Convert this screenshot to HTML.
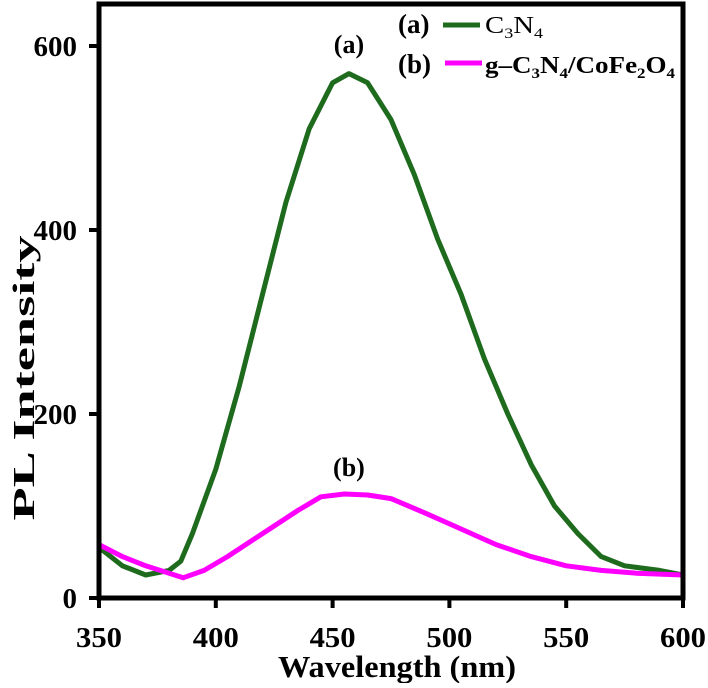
<!DOCTYPE html>
<html><head><meta charset="utf-8"><style>
body{margin:0;background:#fff;width:708px;height:683px;overflow:hidden;position:relative}
text{font-family:"Liberation Serif",serif;font-weight:bold;fill:#000}
</style></head><body>
<svg id="chart" width="708" height="683" xmlns="http://www.w3.org/2000/svg"></svg>
<script>
const xTicks=[350,400,450,500,550,600];
const yTicks=[0,200,400,600];
const wlA=[350,360,370,380,385,390,400,410,420,430,440,450,457,465,475,485,495,505,515,525,535,545,555,565,575,590,600];
const valA=[55,35,25,30,40,70,140,230,330,430,510,560,570,560,520,460,390,330,260,200,145,100,70,45,35,30,25];
const wlB=[350,360,370,380,386,395,405,420,435,445,455,465,475,490,505,520,535,550,565,580,600];
const valB=[58,45,35,27,22,30,45,70,95,110,113,112,108,92,75,58,45,35,30,27,25];
const L=99,R=683,T=4,B=598;
const xs=w=>L+(w-350)/250*(R-L);
const ys=v=>B-v*0.92;
const svg=document.getElementById('chart');
const NS='http://www.w3.org/2000/svg';
function mk(tag,attrs,txt){const e=document.createElementNS(NS,tag);for(const k in attrs)e.setAttribute(k,attrs[k]);if(txt!==undefined)e.textContent=txt;svg.appendChild(e);return e;}
function line(wl,v,c,name){
 const d=wl.map((w,i)=>(i?'L':'M')+xs(w).toFixed(1)+','+ys(v[i]).toFixed(1)).join(' ');
 let p=mk('path',{d:d,fill:'none',stroke:c,'stroke-width':5,'stroke-linejoin':'round'});
 
 
}
line(wlA,valA,'#1e6b1e','series-a-c3n4');
line(wlB,valB,'#ff00ff','series-b-composite');
let f=mk('rect',{x:L,y:T,width:R-L,height:B-T,fill:'none',stroke:'#000','stroke-width':5});


xTicks.forEach(t=>{
 let l=mk('line',{x1:xs(t),x2:xs(t),y1:B,y2:B+10,stroke:'#000','stroke-width':4});
 
 
 let tx=mk('text',{x:xs(t),y:647,'text-anchor':'middle','font-size':29,textLength:46,lengthAdjust:'spacingAndGlyphs'},t);
 
 
});
yTicks.forEach(t=>{
 let l=mk('line',{x1:L-10,x2:L,y1:ys(t),y2:ys(t),stroke:'#000','stroke-width':4});
 
 
 let tx=mk('text',{x:L-22,y:ys(t)+10,'text-anchor':'end','font-size':29},t);
 
 
});
let xt=mk('text',{x:397,y:677,'text-anchor':'middle','font-size':31,textLength:238,lengthAdjust:'spacingAndGlyphs'},'Wavelength (nm)');


let yt=mk('text',{x:0,y:0,'text-anchor':'middle','font-size':31,textLength:285,lengthAdjust:'spacingAndGlyphs',transform:'translate(34,378) rotate(-90)'},'PL Intensity');


let pa=mk('text',{x:xs(457),y:53,'text-anchor':'middle','font-size':26},'(a)');


let pb=mk('text',{x:xs(457),y:ys(113)-18,'text-anchor':'middle','font-size':26},'(b)');


</script>
<svg style="position:absolute;left:0;top:0" width="708" height="120">
 <g>
  <text x="398" y="33" font-size="27">(a)</text>
  <line x1="443" y1="25" x2="480" y2="25" stroke="#1e6b1e" stroke-width="5"/>
  <text x="485" y="33" font-size="24" style="font-weight:normal" textLength="58" lengthAdjust="spacingAndGlyphs">C<tspan font-size="15" dy="5">3</tspan><tspan dy="-5">N</tspan><tspan font-size="15" dy="5">4</tspan></text>
 </g>
 <g>
  <text x="398" y="73" font-size="27">(b)</text>
  <line x1="445" y1="63" x2="482" y2="63" stroke="#ff00ff" stroke-width="5"/>
  <text x="485" y="73" font-size="24" textLength="190" lengthAdjust="spacingAndGlyphs">g–C<tspan font-size="15" dy="5">3</tspan><tspan dy="-5">N</tspan><tspan font-size="15" dy="5">4</tspan><tspan dy="-5">/CoFe</tspan><tspan font-size="15" dy="5">2</tspan><tspan dy="-5">O</tspan><tspan font-size="15" dy="5">4</tspan></text>
 </g>
</svg>
</body></html>
